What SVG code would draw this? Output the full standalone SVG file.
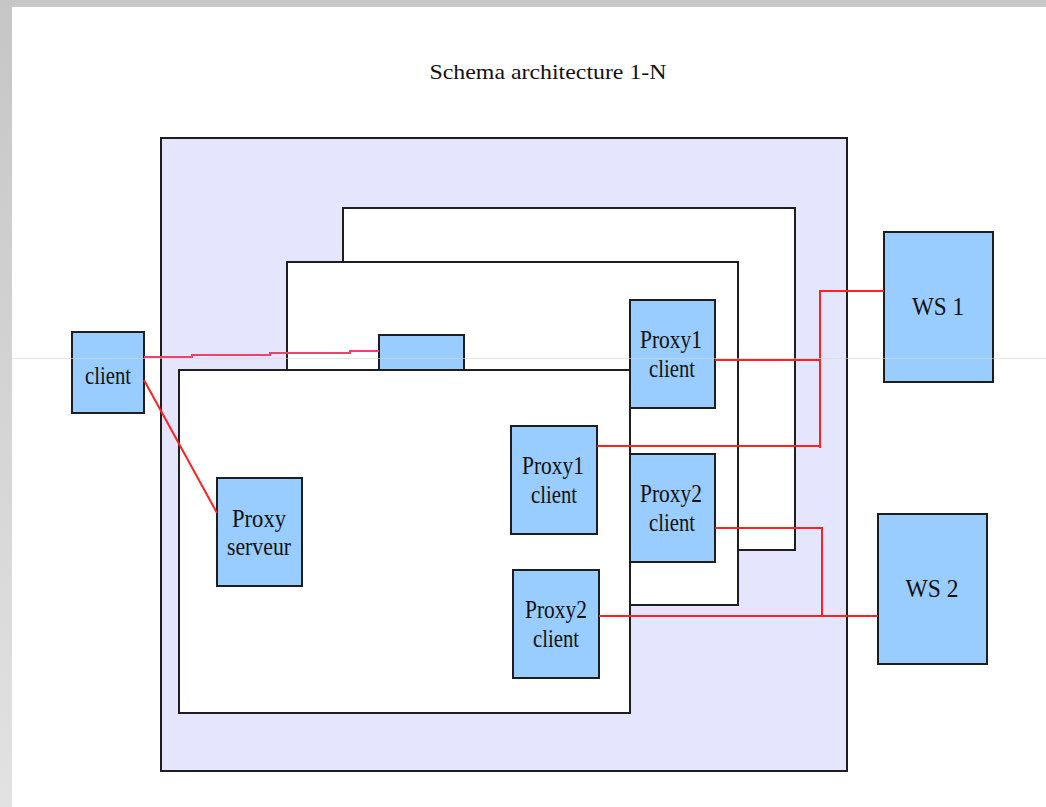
<svg xmlns="http://www.w3.org/2000/svg" width="1046" height="807" viewBox="0 0 1046 807">
<defs>
<linearGradient id="lg" x1="0" y1="0" x2="0" y2="1"><stop offset="0" stop-color="#c6c6c6"/><stop offset="1" stop-color="#e2e2e2"/></linearGradient>
</defs>
<style>
.frame{stroke:#1e1e1e;stroke-width:2}
.node{fill:#99ccff;stroke:#1e1e1e;stroke-width:2}
.lbl{font-family:"Liberation Serif","Times New Roman",serif;font-size:25px;fill:#111;text-anchor:middle}
.wire{fill:none;stroke:#ff2020;stroke-width:2}
.pink{fill:none;stroke:#f2406e;stroke-width:2}
</style>
<rect x="0" y="0" width="1046" height="807" fill="#ffffff"/>
<rect x="0" y="0" width="1046" height="7" fill="#c8c8c8"/>
<rect x="0" y="0" width="12" height="807" fill="url(#lg)"/>
<text x="548" y="79" class="lbl" style="font-size:22px" textLength="237" lengthAdjust="spacingAndGlyphs">Schema architecture 1-N</text>
<g id="frames">
<rect id="outer" x="161" y="138" width="686" height="633" fill="#e5e5fd" class="frame"/>
<rect id="back" x="343" y="208" width="452" height="342" fill="#ffffff" class="frame"/>
<rect id="middle" x="287" y="262" width="451" height="343" fill="#ffffff" class="frame"/>
<g id="hidden-node"><rect x="379" y="335" width="85" height="60" class="node"/></g>
<rect id="front" x="179" y="370" width="451" height="343" fill="#ffffff" class="frame"/>
</g>
<g id="client"><rect x="72" y="332" width="72" height="81" class="node"/><text x="108" y="384" class="lbl" textLength="46" lengthAdjust="spacingAndGlyphs">client</text></g>
<g id="proxy-serveur"><rect x="217" y="478" width="85" height="108" class="node"/><text x="259" y="527" class="lbl" textLength="54" lengthAdjust="spacingAndGlyphs">Proxy</text><text x="259" y="555" class="lbl" textLength="64" lengthAdjust="spacingAndGlyphs">serveur</text></g>
<g id="proxy1-front"><rect x="511" y="426" width="86" height="108" class="node"/><text x="553" y="474" class="lbl" textLength="62" lengthAdjust="spacingAndGlyphs">Proxy1</text><text x="554" y="503" class="lbl" textLength="46" lengthAdjust="spacingAndGlyphs">client</text></g>
<g id="proxy2-front"><rect x="513" y="570" width="86" height="108" class="node"/><text x="556" y="618" class="lbl" textLength="62" lengthAdjust="spacingAndGlyphs">Proxy2</text><text x="556" y="647" class="lbl" textLength="46" lengthAdjust="spacingAndGlyphs">client</text></g>
<g id="proxy1-middle"><rect x="630" y="300" width="85" height="108" class="node"/><text x="671" y="348" class="lbl" textLength="62" lengthAdjust="spacingAndGlyphs">Proxy1</text><text x="672" y="377" class="lbl" textLength="46" lengthAdjust="spacingAndGlyphs">client</text></g>
<g id="proxy2-middle"><rect x="630" y="454" width="85" height="108" class="node"/><text x="671" y="502" class="lbl" textLength="62" lengthAdjust="spacingAndGlyphs">Proxy2</text><text x="672" y="531" class="lbl" textLength="46" lengthAdjust="spacingAndGlyphs">client</text></g>
<g id="ws1"><rect x="884" y="232" width="109" height="150" class="node"/><text x="938" y="315" class="lbl" textLength="52" lengthAdjust="spacingAndGlyphs">WS 1</text></g>
<g id="ws2"><rect x="878" y="514" width="109" height="150" class="node"/><text x="932" y="597" class="lbl" textLength="53" lengthAdjust="spacingAndGlyphs">WS 2</text></g>
<g id="connectors">
<polyline class="pink" points="144,357 192,357 192,355 270,355 270,353 350,353 350,351 379,351"/>
<line class="wire" x1="144" y1="380" x2="217" y2="513"/>
<polyline class="wire" points="715,360 820,360"/>
<polyline class="wire" points="597,446 820,446"/>
<polyline class="wire" points="820,448 820,291 884,291"/>
<polyline class="wire" points="715,528 822,528 822,616"/>
<polyline class="wire" points="599,616 878,616"/>
</g>
<line x1="12" y1="358.5" x2="1046" y2="358.5" stroke="#d8d8d8" stroke-width="1" opacity="0.6"/>
</svg>
